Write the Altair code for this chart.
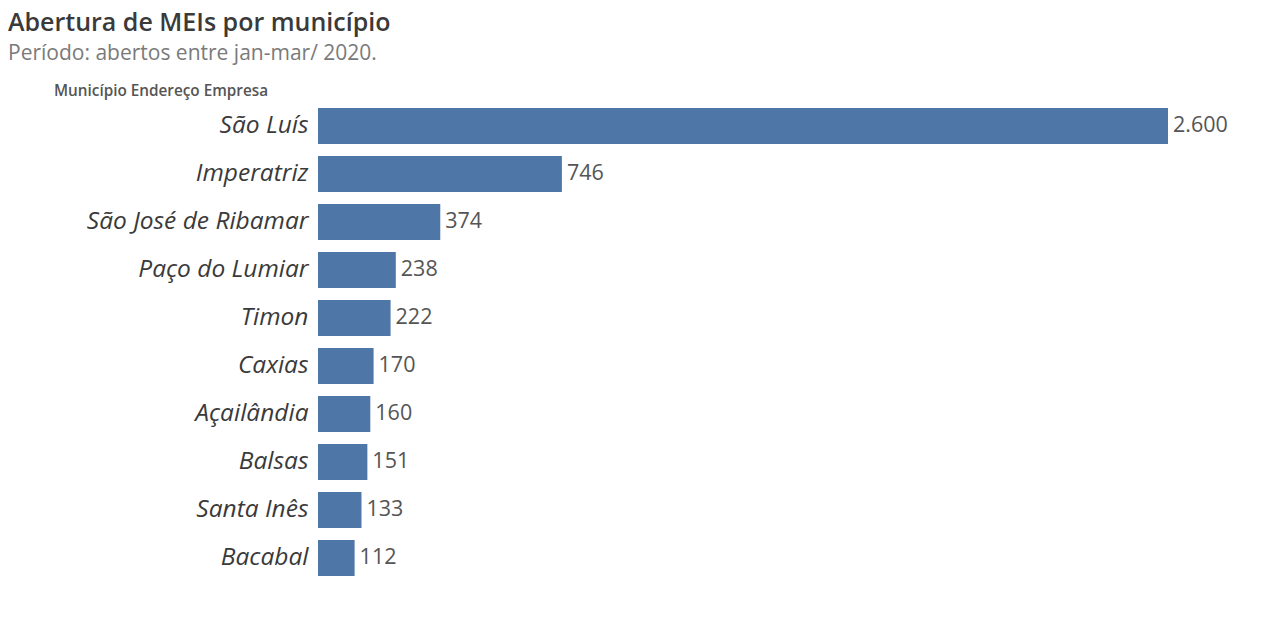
import altair as alt
import pandas as pd

municipios = ["São Luís", "Imperatriz", "São José de Ribamar", "Paço do Lumiar", "Timon",
              "Caxias", "Açailândia", "Balsas", "Santa Inês", "Bacabal"]
aberturas = [2600, 746, 374, 238, 222, 170, 160, 151, 133, 112]
header = ["Município Endereço Empresa"]

df = pd.DataFrame({"municipio": municipios, "aberturas": aberturas})

base = alt.Chart(df).encode(
    y=alt.Y("municipio:N", sort=municipios, title=None,
            scale=alt.Scale(paddingInner=0.25, paddingOuter=0.125),
            axis=alt.Axis(domain=False, ticks=False, labelFont="Open Sans",
                          labelFontStyle="italic", labelFontSize=24.5, labelColor="#3a3a3a",
                          labelPadding=10, labelLimit=320)),
)

bars = base.mark_bar(color="#4e76a6").encode(
    x=alt.X("aberturas:Q", scale=alt.Scale(domain=[0, 2600], nice=False), axis=None)
)

labels = base.mark_text(align="left", baseline="middle", dx=5, fontSize=21.5,
                        font="Open Sans", color="#555555").transform_calculate(
    lbl="replace(format(datum.aberturas, ',d'), ',', '.')"
).encode(
    x=alt.X("aberturas:Q"),
    text="lbl:N",
)

hdr = alt.Chart(pd.DataFrame({"h": header})).mark_text(
    align="left", baseline="alphabetic", fontSize=15.3, fontWeight=600,
    font="Open Sans", color="#555555"
).encode(x=alt.value(-264), y=alt.value(-6), text="h:N")

chart = alt.layer(bars, labels, hdr).properties(
    width=850, height=480,
    background="white",
    title=alt.TitleParams(
        text="Abertura de MEIs por município",
        subtitle="Período: abertos entre jan-mar/ 2020.",
        anchor="start", frame="group", dx=-310, offset=20,
        font="Open Sans", fontSize=25, fontWeight=600, color="#3a3a3a",
        subtitleFont="Open Sans", subtitleFontSize=21, subtitleColor="#7a7a7a",
        subtitlePadding=7,
    ),
    autosize=alt.AutoSizeParams(type="none"),
    padding={"left": 310, "top": 94, "right": 100, "bottom": 40},
).configure_view(stroke="transparent", strokeWidth=0)

chart.save("out.html", embed_options={"renderer": "svg", "actions": False})
